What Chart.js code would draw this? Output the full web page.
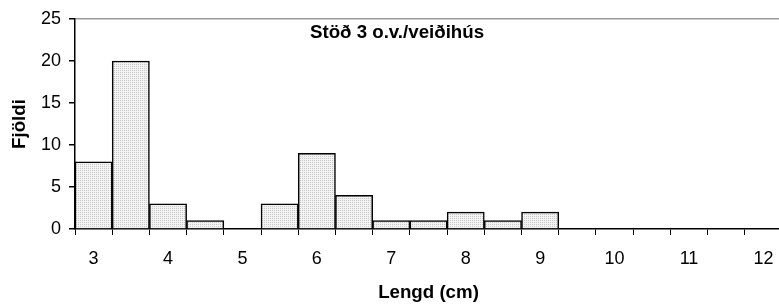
<!DOCTYPE html>
<html><head><meta charset="utf-8">
<script src="https://cdn.jsdelivr.net/npm/chart.js@4"></script>
<style>html,body{margin:0;padding:0;overflow:hidden;background:#fff;width:779px;height:306px}</style>
</head><body>
<canvas id="c" width="790" height="306" style="width:790px;height:306px"></canvas>
<script>
const categories = [3,3.5,4,4.5,5,5.5,6,6.5,7,7.5,8,8.5,9,9.5,10,10.5,11,11.5,12];
const counts = [8,20,3,1,0,3,9,4,1,1,2,1,2,0,0,0,0,0,0];
const yTicks = [0,5,10,15,20,25];
const chartTitle = 'Stöð 3 o.v./veiðihús';
const xTitle = 'Lengd (cm)';
const yTitle = 'Fjöldi';

function makePattern(){
  const p = document.createElement('canvas'); p.width = 2; p.height = 2;
  const g = p.getContext('2d');
  g.fillStyle = '#f3f3f3'; g.fillRect(0,0,2,2);
  g.fillStyle = '#c8c8c8'; g.fillRect(0,0,1,1);
  return document.getElementById('c').getContext('2d').createPattern(p,'repeat');
}
const FONT = '"Liberation Sans", Arial, sans-serif';

const titlePlugin = {
  id:'innerTitle',
  afterDraw(chart){
    const {ctx} = chart;
    ctx.save();
    ctx.font = 'bold 18.7px ' + FONT;
    ctx.fillStyle = '#000';
    ctx.textAlign = 'center'; ctx.textBaseline = 'middle';
    ctx.fillText(chartTitle, 397, 32.5);
    ctx.restore();
  }
};

new Chart(document.getElementById('c'), {
  type:'bar',
  data:{labels:categories, datasets:[{data:counts, backgroundColor:makePattern(), borderColor:'#000', borderWidth:1.5, borderSkipped:'start', categoryPercentage:1, barPercentage:1}]},
  options:{
    responsive:false, animation:false,
    layout:{padding:{top:19,right:8,left:0,bottom:0}},
    plugins:{legend:{display:false}, tooltip:{enabled:false}},
    scales:{
      x:{
        offset:true,
        grid:{offset:true, drawOnChartArea:false, tickLength:6, color:'#000', lineWidth:1},
        border:{color:'#000', width:1.5},
        ticks:{autoSkip:false, maxRotation:0, color:'#000', font:{family:FONT,size:18}, padding:13,
          callback:(v,i)=> Number.isInteger(categories[i]) ? String(categories[i]) : ''},
        title:{display:true, text:xTitle, color:'#000', font:{family:FONT,size:18.7,weight:'bold'}, padding:{top:0,bottom:2}},
        afterFit:s=>{s.height=77;}
      },
      y:{
        min:0, max:25,
        afterBuildTicks:s=>{s.ticks = yTicks.map(v=>({value:v}));},
        grid:{color:c=> (c.tick && c.tick.value===25) ? '#999' : 'transparent', lineWidth:1.5, tickColor:'#000', tickLength:6, drawTicks:true},
        border:{color:'#000', width:1.5},
        ticks:{color:'#000', font:{family:FONT,size:18}, padding:8},
        title:{display:true, text:yTitle, color:'#000', font:{family:FONT,size:18.7,weight:'bold'}, padding:{top:9,bottom:0}},
        afterFit:s=>{s.width=75;}
      }
    }
  },
  plugins:[titlePlugin]
});
</script>
</body></html>
